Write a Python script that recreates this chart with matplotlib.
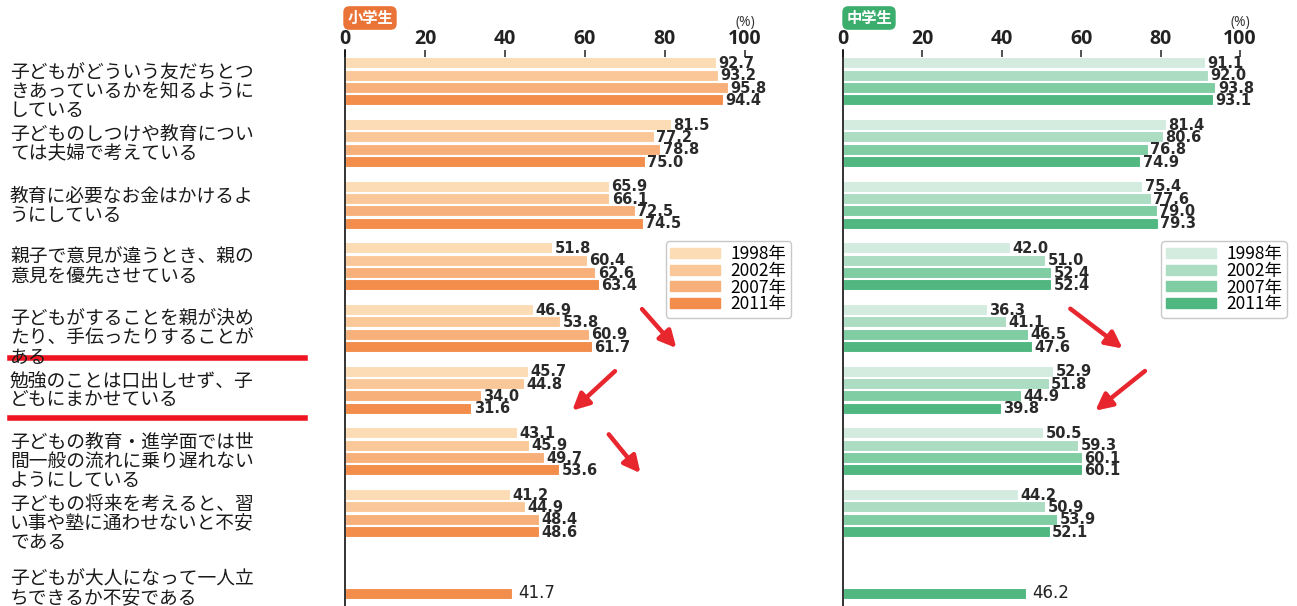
import numpy as np
import matplotlib
matplotlib.use('Agg')
import matplotlib.pyplot as plt
from matplotlib.lines import Line2D
from matplotlib.transforms import blended_transform_factory

plt.rcParams['font.family'] = ['Noto Sans CJK JP', 'DejaVu Sans']

years = ['1998年', '2002年', '2007年', '2011年']

categories = [
    '子どもがどういう友だちとつ\nきあっているかを知るように\nしている',
    '子どものしつけや教育につい\nては夫婦で考えている',
    '教育に必要なお金はかけるよ\nうにしている',
    '親子で意見が違うとき、親の\n意見を優先させている',
    '子どもがすることを親が決め\nたり、手伝ったりすることが\nある',
    '勉強のことは口出しせず、子\nどもにまかせている',
    '子どもの教育・進学面では世\n間一般の流れに乗り遅れない\nようにしている',
    '子どもの将来を考えると、習\nい事や塾に通わせないと不安\nである',
    '子どもが大人になって一人立\nちできるか不安である',
]

# 小学生 (rows = categories, cols = years), None = not asked
elem = [
    [92.7, 93.2, 95.8, 94.4],
    [81.5, 77.2, 78.8, 75.0],
    [65.9, 66.1, 72.5, 74.5],
    [51.8, 60.4, 62.6, 63.4],
    [46.9, 53.8, 60.9, 61.7],
    [45.7, 44.8, 34.0, 31.6],
    [43.1, 45.9, 49.7, 53.6],
    [41.2, 44.9, 48.4, 48.6],
    [None, None, None, 41.7],
]

# 中学生
junior = [
    [91.1, 92.0, 93.8, 93.1],
    [81.4, 80.6, 76.8, 74.9],
    [75.4, 77.6, 79.0, 79.3],
    [42.0, 51.0, 52.4, 52.4],
    [36.3, 41.1, 46.5, 47.6],
    [52.9, 51.8, 44.9, 39.8],
    [50.5, 59.3, 60.1, 60.1],
    [44.2, 50.9, 53.9, 52.1],
    [None, None, None, 46.2],
]

orange = ['#fcdcb4', '#fac898', '#f8b07a', '#f28d4c']
green = ['#d3ecdf', '#acdcc2', '#80cca3', '#4fb77f']

W, H = 1297, 606
fig = plt.figure(figsize=(W / 100, H / 100), dpi=100)

ax_top = 50
ax_h = (H - ax_top) / H
ax1 = fig.add_axes([345 / W, 0, 400 / W, ax_h])
ax2 = fig.add_axes([843 / W, 0, 397 / W, ax_h])

pitch = 0.2
bar_h = 0.18


def draw_panel(ax, data, colors):
    for g, row in enumerate(data):
        for j, v in enumerate(row):
            if v is None:
                continue
            y = g + j * pitch
            ax.barh(y, v, height=bar_h, color=colors[j], edgecolor='white', linewidth=0.8)
            if g == len(data) - 1:
                ax.text(v + 1.5, y, f'{v:.1f}', va='center', ha='left', fontsize=12,
                        family='Liberation Sans Narrow', color='#222222')
            else:
                ax.text(v + 0.6, y + 0.01, f'{v:.1f}', va='center', ha='left', fontsize=10.5,
                        family='DejaVu Sans', weight='bold', color='#2a2a2a')
    ax.set_xlim(0, 100)
    ax.set_ylim(8.81, -0.21)
    for s in ['right', 'bottom', 'top']:
        ax.spines[s].set_visible(False)
    ax.spines['left'].set_color('#111111')
    ax.spines['left'].set_linewidth(1.2)
    ax.set_yticks([])
    ax.xaxis.tick_top()
    ax.set_xticks([0, 20, 40, 60, 80, 100])
    ax.tick_params(axis='x', direction='in', length=5, width=1.2, pad=1, color='#333333')
    for lab in ax.get_xticklabels():
        lab.set_family('Open Sans')
        lab.set_weight('bold')
        lab.set_fontsize(14)
        lab.set_color('#222222')
    ax.text(1.0, 1.05, '(%)', transform=ax.transAxes, ha='center', va='center',
            fontsize=10, family='Open Sans', color='#333333')
    handles = [plt.Rectangle((0, 0), 1, 1, color=c) for c in colors]
    leg = ax.legend(handles, years, loc='upper left', bbox_to_anchor=(0.78, 0.672),
                    fontsize=12.5, handlelength=2.9, handleheight=0.5, labelspacing=-0.08,
                    borderpad=0.25, handletextpad=0.6, frameon=True, fancybox=True)
    leg.get_frame().set_edgecolor('#bbbbbb')
    leg.get_frame().set_linewidth(1)


draw_panel(ax1, elem, orange)
draw_panel(ax2, junior, green)

# category labels
tr = blended_transform_factory(fig.transFigure, ax1.transData)
for g, lab in enumerate(categories):
    y = g - 0.01 if g < len(categories) - 1 else g + 0.2
    fig.text(10 / W, y, lab, transform=tr, ha='left', va='top', fontsize=13.5,
             linespacing=0.87, color='#1a1a1a')

# badges
fig.text(370 / W, 1 - 18 / H, '小学生', ha='center', va='center', fontsize=11,
         weight='bold', color='white',
         bbox=dict(boxstyle='round,pad=0.25,rounding_size=0.4', fc='#ea7437', ec='none'))
fig.text(869 / W, 1 - 18 / H, '中学生', ha='center', va='center', fontsize=11,
         weight='bold', color='white',
         bbox=dict(boxstyle='round,pad=0.25,rounding_size=0.4', fc='#3bae6e', ec='none'))

# red arrows
red = '#e8262e'
arrow_kw = dict(arrowstyle='-|>,head_length=1.0,head_width=0.5', color=red, lw=3.2)
for ax, arrows in [(ax1, [((73.8, 3.96), (83.3, 4.66)),
                          ((68.0, 4.97), (56.3, 5.67)),
                          ((65.5, 5.99), (74.3, 6.69))]),
                   (ax2, [((56.7, 3.96), (71.0, 4.66)),
                          ((76.6, 4.97), (63.0, 5.67))])]:
    for start, end in arrows:
        ax.annotate('', xy=end, xytext=start, arrowprops=arrow_kw, annotation_clip=False)

# red underlines
for ypx in [358, 418]:
    fig.add_artist(Line2D([10 / W, 305 / W], [1 - ypx / H, 1 - ypx / H],
                          color='#f01420', lw=4, transform=fig.transFigure))

fig.savefig('out.png', dpi=100)
